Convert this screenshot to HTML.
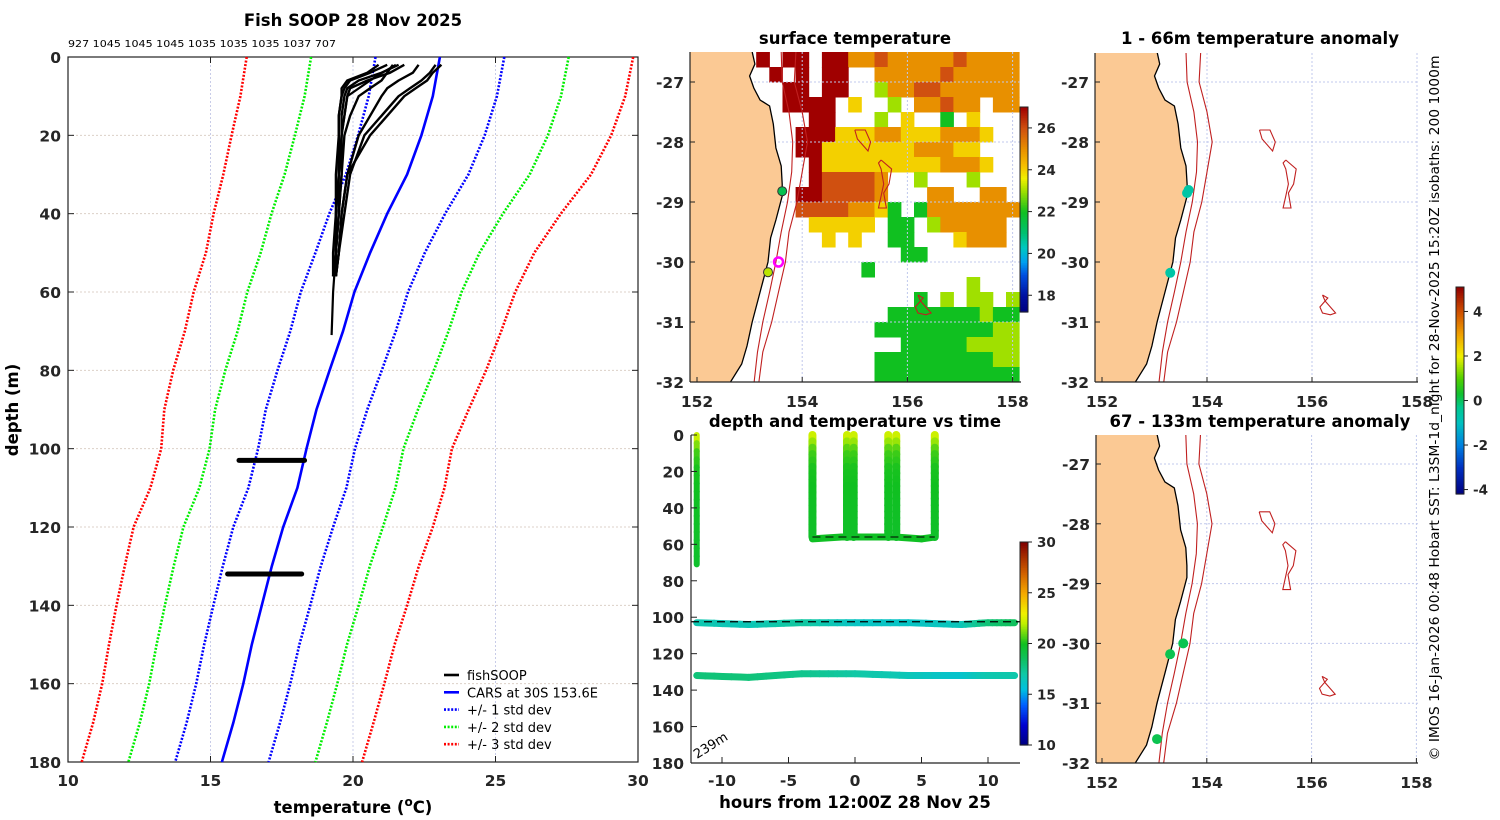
<!DOCTYPE html>
<html><head><meta charset="utf-8">
<style>
html,body{margin:0;padding:0;background:#fff;}
svg{display:block;font-family:"DejaVu Sans","Liberation Sans",sans-serif;}
.t{font-weight:bold;font-size:16.5px;fill:#000;}
.tk{font-weight:bold;font-size:15.5px;fill:#262626;}
</style></head>
<body>
<svg id="fig" width="1500" height="820" viewBox="0 0 1500 820" xmlns="http://www.w3.org/2000/svg">
<g id="gL"></g>
<g id="gM1"></g>
<g id="gM2"></g>
<g id="gR1"></g>
<g id="gR2"></g>
<text x="353" y="26" text-anchor="middle" class="t">Fish SOOP 28 Nov 2025</text>
<text x="68" y="47" font-size="10" fill="#000" textLength="268" lengthAdjust="spacingAndGlyphs">927 1045 1045 1045 1035 1035 1035 1037 707</text>
<text x="855" y="44" text-anchor="middle" class="t">surface temperature</text>
<text x="1260" y="44" text-anchor="middle" class="t">1 - 66m temperature anomaly</text>
<text x="855" y="427" text-anchor="middle" class="t">depth and temperature vs time</text>
<text x="1260" y="427" text-anchor="middle" class="t">67 - 133m temperature anomaly</text>
<text transform="translate(1439,408) rotate(-90)" text-anchor="middle" font-size="13" fill="#000" textLength="705" lengthAdjust="spacingAndGlyphs">© IMOS 16-Jan-2026 00:48 Hobart SST: L3SM-1d_night for 28-Nov-2025 15:20Z isobaths: 200  1000m</text>
</svg>
<script>
// ---------- data ----------
const profDepthTicks=[0,20,40,60,80,100,120,140,160,180];
const tempTicks=[10,15,20,25,30];
const carsDepth=[0,10,20,30,40,50,60,70,80,90,100,110,120,130,140,150,160,170,180];
const carsMean=[23.05,22.8,22.4,21.9,21.2,20.6,20.05,19.65,19.18,18.72,18.37,18.05,17.55,17.15,16.8,16.45,16.15,15.8,15.4];
const carsStd=[2.26,2.25,2.22,2.15,2.03,1.92,1.88,1.85,1.83,1.78,1.7,1.72,1.75,1.72,1.7,1.67,1.65,1.64,1.64];
const soopDepth=[2,4,6,8,10,15,20,30,40,50,56];
const soop1=[21.6,21.0,20.2,19.8,19.7,19.6,19.6,19.5,19.4,19.4,19.3];
const soop2=[21.8,21.3,20.5,19.9,19.8,19.7,19.6,19.6,19.5,19.4,19.4];
const soop3=[21.2,20.6,19.9,19.7,19.6,19.5,19.5,19.4,19.4,19.3,19.3];
const soop4=[21.4,21.2,21.0,20.6,20.2,19.9,19.7,19.6,19.5,19.4,19.3];
const soop5=[22.3,22.1,21.6,21.2,21.0,20.6,20.2,19.8,19.6,19.5,19.4];
const soop6=[23.1,22.8,22.6,22.2,21.8,21.2,20.6,19.8,19.6,19.5,19.4];
const soop7=[22.9,22.7,22.4,22.0,21.6,21.0,20.4,19.9,19.7,19.5,19.4];
const soop8=[20.9,20.5,19.8,19.6,19.6,19.5,19.5,19.5,19.4,19.4,19.3];
const soopDeepDepth=[2,5,10,20,30,40,50,60,71];
const soopDeep=[21.5,20.8,19.8,19.6,19.5,19.5,19.4,19.3,19.25];
const bottomDepth=[103,132];
const bottomTmin=[16.0,15.6];
const bottomTmax=[18.3,18.2];

const hourTicks=[-10,-5,0,5,10];
const dtDepthTicks=[0,20,40,60,80,100,120,140,160,180];
const vertTimes=[-11.9,-3.2,-0.6,-0.1,2.5,3.1,6.0];
const vertMaxDepth=[71,56,56,56,56,56,56];
const vProfDepth=[0,5,10,20,40,56,71];
const vProfTemp=[22.6,21.6,20.6,20.1,19.9,19.8,19.7];
const shelfTimes=[-3.2,-1,1,3,5,6.0];
const shelfDepth=[57,56,56,56,57,56];
const lineTimes=[-11.9,-8,-4,0,4,8,10,12];
const temp103=[16.8,16.6,17.2,16.3,16.2,16.5,18.0,18.6];
const temp132=[18.0,18.0,17.6,17.1,16.6,16.0,16.8,16.9];
const depth103=[103,104,103,103,103,104,103,103];
const depth132=[132,133,131,131,132,132,132,132];

const sstTicks=[18,20,22,24,26];
const anomTicks=[-4,-2,0,2,4];
const lonTicks=[152,154,156,158];
const latTicks=[-27,-28,-29,-30,-31,-32];
// SST grid: rows from lat -26.5 southward (0.25 deg), cols from lon 151.875 (0.25 deg); '.'=no data, digit d => 18+d degC
const sstRows=[
".....9.99.997787777787777",
"......9.9.99..77777877777",
".......99.99..57788777777",
".......9999.6..5.77877.77",
".........99...5.6..4.6...",
"........999666776667776..",
"........99666666677766...",
".........96666666667776..",
".........988887..5...5...",
"........9988887...77..77.",
"........88887764.47777777",
".........66666.44.577777.",
"..........6.6..44...6777.",
"................44.......",
".............4...........",
".....................5...",
".................4.5.55.5",
"...............4444444544",
"..............44444444455",
"................444445555",
"..............44444444455",
"..............44444444444"];
const coastLon=[153.05,153.1,153.0,153.08,153.2,153.38,153.45,153.5,153.6,153.62,153.62,153.5,153.4,153.35,153.2,153.05,152.95,152.85,152.6];
const coastLat=[-26.5,-26.7,-26.9,-27.1,-27.3,-27.4,-27.7,-28.1,-28.4,-28.7,-28.9,-29.3,-29.6,-30.0,-30.5,-31.0,-31.4,-31.7,-32.05];
const iso200Lon=[153.6,153.62,153.75,153.82,153.8,153.72,153.6,153.5,153.38,153.25,153.15,153.08];
const iso200Lat=[-26.5,-27.0,-27.5,-28.0,-28.5,-29.0,-29.5,-30.0,-30.5,-31.0,-31.5,-32.05];
const iso1000Lon=[153.88,153.85,154.0,154.1,154.0,153.9,153.75,153.68,153.55,153.42,153.25,153.17];
const iso1000Lat=[-26.5,-27.0,-27.5,-28.0,-28.5,-29.0,-29.5,-30.0,-30.5,-31.0,-31.5,-32.05];
const smA_lon=[155.0,155.2,155.3,155.25,155.05,155.0];
const smA_lat=[-27.8,-27.8,-28.0,-28.15,-27.95,-27.8];
const smB_lon=[155.5,155.7,155.65,155.55,155.6,155.45,155.5,155.55,155.5,155.45,155.5];
const smB_lat=[-28.3,-28.45,-28.7,-28.85,-29.1,-29.1,-28.9,-28.7,-28.45,-28.35,-28.3];
const smC_lon=[156.2,156.3,156.25,156.45,156.35,156.2,156.15,156.25,156.2];
const smC_lat=[-30.55,-30.6,-30.65,-30.85,-30.88,-30.85,-30.75,-30.65,-30.55];
const sstDotLon=[153.62,153.35];
const sstDotLat=[-28.82,-30.17];
const sstDotTemp=[21.4,23.2];
const ringLon=[153.55], ringLat=[-30.0];
const anom1Lon=[153.62,153.65,153.3];
const anom1Lat=[-28.85,-28.8,-30.18];
const anom1Val=[-0.6,-0.6,-0.6];
const anom2Lon=[153.55,153.3,153.05];
const anom2Lat=[-30.0,-30.18,-31.6];
const anom2Val=[0.1,0.1,0.1];

// ---------- helpers ----------
const NS='http://www.w3.org/2000/svg';
function mk(parent,tag,attrs){const e=document.createElementNS(NS,tag);for(const k in attrs)e.setAttribute(k,attrs[k]);parent.appendChild(e);return e;}
function hex2rgb(h){return[parseInt(h.substr(1,2),16),parseInt(h.substr(3,2),16),parseInt(h.substr(5,2),16)];}
function cmap(stops,v){if(v<=stops[0][0])return stops[0][1];for(let i=1;i<stops.length;i++){if(v<=stops[i][0]){const a=stops[i-1],b=stops[i];const f=(v-a[0])/(b[0]-a[0]);const A=hex2rgb(a[1]),B=hex2rgb(b[1]);return 'rgb('+A.map((x,j)=>Math.round(x+(B[j]-x)*f)).join(',')+')';}}return stops[stops.length-1][1];}
const sstStops=[[17.2,'#00007f'],[18,'#0010a0'],[19,'#0050e0'],[19.6,'#00a0f0'],[20.3,'#00c8c0'],[21,'#00c070'],[22,'#10c020'],[23,'#a0e000'],[23.6,'#f0f000'],[24.2,'#f5c000'],[25,'#e89000'],[26,'#d05010'],[27,'#a00000']];
const timeStops=[[10,'#00007f'],[12,'#0000d0'],[14,'#0060ff'],[15.5,'#00c0e0'],[17,'#10c8a8'],[18.5,'#10c060'],[20,'#10c020'],[22,'#c0f000'],[23,'#f0f000'],[25,'#f5a800'],[27,'#d06000'],[30,'#800000']];
const anomStops=[[-4.2,'#00007f'],[-3,'#0030c0'],[-2,'#0080e0'],[-1,'#00c0c0'],[-0.3,'#00c890'],[0.3,'#10c030'],[1,'#50d000'],[2,'#f0f000'],[3,'#f0a000'],[4,'#d05000'],[5.1,'#900000']];
function txt(p,x,y,s,anchor,name,cls){const t=mk(p,'text',{x:x,y:y,'text-anchor':anchor||'middle'});if(cls)t.setAttribute('class',cls);t.textContent=s;return t;}
function colorbar(p,x,y0,y1,vmin,vmax,stops,ticks,name){
  const g=mk(p,'g',{});
  const n=120;for(let i=0;i<n;i++){const v=vmin+(vmax-vmin)*(i+0.5)/n;const ya=y1-(y1-y0)*(i+1)/n;mk(g,'rect',{x:x,y:ya,width:8,height:(y1-y0)/n+0.6,fill:cmap(stops,v)});}
  mk(g,'rect',{x:x,y:y0,width:8,height:y1-y0,fill:'none',stroke:'#222','stroke-width':1});
  ticks.forEach(t=>{const y=y1-(t-vmin)/(vmax-vmin)*(y1-y0);mk(g,'line',{x1:x+8,x2:x+12,y1:y,y2:y,stroke:'#222'});const tt=txt(g,x+17,y+5,String(t),'start','colorbar-tick','');tt.setAttribute('font-size','13.5');tt.setAttribute('font-weight','bold');tt.setAttribute('fill','#262626');});
}

// ---------- left profile panel ----------
(function(){
const g=document.getElementById('gL');
const X=t=>68+(t-10)*28.5, Y=d=>57+d*(705/180);
tempTicks.forEach(t=>{if(t>10&&t<30){const l=mk(g,'line',{x1:X(t),x2:X(t),y1:57,y2:762,stroke:'#c8cce8','stroke-dasharray':'2,2'});}
  txt(g,X(t),786,String(t),'middle','x-tick-label','tk');});
profDepthTicks.forEach(d=>{if(d>0&&d<180){const l=mk(g,'line',{x1:68,x2:638,y1:Y(d),y2:Y(d),stroke:'#dcd0c8','stroke-dasharray':'2,2'});
  mk(g,'line',{x1:68,x2:74,y1:Y(d),y2:Y(d),stroke:'#222'});mk(g,'line',{x1:632,x2:638,y1:Y(d),y2:Y(d),stroke:'#222'});}
  txt(g,61,Y(d)+6,String(d),'end','y-tick-label','tk');});
tempTicks.forEach(t=>{mk(g,'line',{x1:X(t),x2:X(t),y1:57,y2:63,stroke:'#222'});mk(g,'line',{x1:X(t),x2:X(t),y1:756,y2:762,stroke:'#222'});});
const box=mk(g,'rect',{x:68,y:57,width:570,height:705,fill:'none',stroke:'#222','stroke-width':1.2});
const cols={1:'#0000ff',2:'#00ee00',3:'#ff0000'};
[3,2,1].forEach(k=>{[-1,1].forEach(s=>{const pts=carsDepth.map((d,i)=>X(carsMean[i]+s*k*carsStd[i]).toFixed(1)+','+Y(d).toFixed(1)).join(' ');
  const pl=mk(g,'polyline',{points:pts,fill:'none',stroke:cols[k],'stroke-width':2.6,'stroke-dasharray':'2,1.6'});});});
const mean=mk(g,'polyline',{points:carsDepth.map((d,i)=>X(carsMean[i]).toFixed(1)+','+Y(d).toFixed(1)).join(' '),fill:'none',stroke:'#0000ff','stroke-width':2.6});

[soop1,soop2,soop3,soop4,soop5,soop6,soop7,soop8].forEach(arr=>{const pl=mk(g,'polyline',{points:soopDepth.map((d,i)=>X(arr[i]).toFixed(1)+','+Y(d).toFixed(1)).join(' '),fill:'none',stroke:'#000','stroke-width':2.4,'stroke-linejoin':'round'});
  });
const dp=mk(g,'polyline',{points:soopDeepDepth.map((d,i)=>X(soopDeep[i]).toFixed(1)+','+Y(d).toFixed(1)).join(' '),fill:'none',stroke:'#000','stroke-width':2.2});

bottomDepth.forEach((d,i)=>{const l=mk(g,'line',{x1:X(bottomTmin[i]),x2:X(bottomTmax[i]),y1:Y(d),y2:Y(d),stroke:'#000','stroke-width':5,'stroke-linecap':'round'});
  });
const yl=txt(g,0,0,'depth (m)','middle','y-axis-title','t');yl.setAttribute('transform','translate(18,410) rotate(-90)');
const xl=mk(g,'text',{x:353,y:813,'text-anchor':'middle',class:'t'});
xl.innerHTML='temperature (<tspan dy="-7" font-size="12">o</tspan><tspan dy="7">C)</tspan>';
const lg=mk(g,'g',{});
const leg=[['fishSOOP','#000',''],['CARS at 30S 153.6E','#0000ff',''],['+/- 1 std dev','#0000ff','2,1.6'],['+/- 2 std dev','#00ee00','2,1.6'],['+/- 3 std dev','#ff0000','2,1.6']];
leg.forEach((e,i)=>{const y=675+i*17.3;const ln=mk(lg,'line',{x1:444,x2:459,y1:y,y2:y,stroke:e[1],'stroke-width':2.6});if(e[2])ln.setAttribute('stroke-dasharray',e[2]);
  const t=txt(lg,467,y+5,e[0],'start','legend-entry','');t.setAttribute('font-size','13');});
})();

// ---------- map drawing ----------
function drawMap(gid,x0,lonScale,y0,latScale,box,opts){
  const g=document.getElementById(gid);
  const P=(lon,lat)=>[x0+(lon-152)*lonScale,y0-(lat+27)*latScale];
  const cid='clip'+gid;const cp=mk(g,'clipPath',{id:cid});mk(cp,'rect',{x:box[0],y:box[1],width:box[2]-box[0],height:box[3]-box[1]});
  const inner=mk(g,'g',{'clip-path':'url(#'+cid+')'});
  if(opts.sst){const cells=mk(inner,'g',{});
    sstRows.forEach((row,j)=>{for(let i=0;i<row.length;i++){const c=row[i];if(c==='.')continue;const v=18+parseInt(c);
      const a=P(151.875+0.25*i,-26.5-0.25*j),b=P(152.125+0.25*i,-26.75-0.25*j);
      const r=mk(cells,'rect',{x:a[0].toFixed(1),y:a[1].toFixed(1),width:(b[0]-a[0]+0.5).toFixed(1),height:(b[1]-a[1]+0.5).toFixed(1),fill:cmap(sstStops,v)});
      }});}
  lonTicks.forEach(l=>{const p=P(l,-27)[0];const gl=mk(inner,'line',{x1:p,x2:p,y1:box[1],y2:box[3],stroke:'#c0c8ec','stroke-dasharray':'2,2'});});
  latTicks.forEach(l=>{const p=P(152,l)[1];const gl=mk(inner,'line',{x1:box[0],x2:box[2],y1:p,y2:p,stroke:'#c0c8ec','stroke-dasharray':'2,2'});});
  const cpts=coastLon.map((l,i)=>P(l,coastLat[i]));
  const land=[...cpts,P(151.7,-32.1),P(151.7,-26.4)].map(p=>p[0].toFixed(1)+','+p[1].toFixed(1)).join(' ');
  const lp=mk(inner,'polygon',{points:land,fill:'#fbc994',stroke:'none'});
  const cl=mk(inner,'polyline',{points:cpts.map(p=>p[0].toFixed(1)+','+p[1].toFixed(1)).join(' '),fill:'none',stroke:'#000','stroke-width':1.3});
  [[iso200Lon,iso200Lat,'isobath-200m'],[iso1000Lon,iso1000Lat,'isobath-1000m'],[smA_lon,smA_lat,'seamount-contour'],[smB_lon,smB_lat,'seamount-contour'],[smC_lon,smC_lat,'seamount-contour']].forEach(s=>{
    const pl=mk(inner,'polyline',{points:s[0].map((l,i)=>{const p=P(l,s[1][i]);return p[0].toFixed(1)+','+p[1].toFixed(1);}).join(' '),fill:'none',stroke:'#c02020','stroke-width':1.1});
    });
  if(opts.dots){opts.dots[0].forEach((l,i)=>{const p=P(l,opts.dots[1][i]);const c=mk(inner,'circle',{cx:p[0],cy:p[1],r:opts.r||4.5,fill:cmap(opts.stops,opts.dots[2][i]),stroke:opts.edge||'none','stroke-width':1});
    });}
  if(opts.ring){const p=P(ringLon[0],ringLat[0]);const c=mk(inner,'circle',{cx:p[0],cy:p[1],r:4.5,fill:'none',stroke:'#ff00ff','stroke-width':2.5});}
  mk(g,'line',{x1:box[0],x2:box[0],y1:box[1],y2:box[3],stroke:'#222','stroke-width':1.2});
  mk(g,'line',{x1:box[0],x2:box[2],y1:box[3],y2:box[3],stroke:'#222','stroke-width':1.2});
  lonTicks.forEach(l=>{const x=P(l,-27)[0];mk(g,'line',{x1:x,x2:x,y1:box[3]-5,y2:box[3],stroke:'#222'});txt(g,x,box[3]+25,String(l),'middle','lon-tick-label','tk');});
  latTicks.forEach(l=>{const y=P(152,l)[1];if(y>box[3]+1)return;mk(g,'line',{x1:box[0],x2:box[0]+5,y1:y,y2:y,stroke:'#222'});txt(g,box[0]-6,y+6,String(l),'end','lat-tick-label','tk');});
}
drawMap('gM1',697,52.6,82,60,[690,52,1021,382],{sst:true,dots:[sstDotLon,sstDotLat,sstDotTemp],stops:sstStops,edge:'#333',ring:true});
drawMap('gR1',1102,52.5,82,60,[1095,53,1418,382],{dots:[anom1Lon,anom1Lat,anom1Val],stops:anomStops,r:5});
drawMap('gR2',1102,52.4,464,59.8,[1096,435,1418,763],{dots:[anom2Lon,anom2Lat,anom2Val],stops:anomStops,r:5});
colorbar(document.getElementById('gM1'),1020,107,312,17.2,27,sstStops,sstTicks,'sst-colorbar');
colorbar(document.getElementById('gR1'),1456,287,494,-4.2,5.1,anomStops,anomTicks,'anomaly-colorbar');

// ---------- depth vs time panel ----------
(function(){
const g=document.getElementById('gM2');
const T=h=>855+h*13.3, D=d=>435+d*(328/180);
const cp=mk(g,'clipPath',{id:'clipdt'});mk(cp,'rect',{x:691,y:430,width:329,height:333});
const inner=mk(g,'g',{'clip-path':'url(#clipdt)'});
const tempAt=d=>{for(let i=1;i<vProfDepth.length;i++){if(d<=vProfDepth[i]){const f=(d-vProfDepth[i-1])/(vProfDepth[i]-vProfDepth[i-1]);return vProfTemp[i-1]+f*(vProfTemp[i]-vProfTemp[i-1]);}}return vProfTemp[vProfTemp.length-1];};
function seg(x1,y1,x2,y2,c,w,name){const l=mk(inner,'line',{x1:x1,y1:y1,x2:x2,y2:y2,stroke:c,'stroke-width':w,'stroke-linecap':'round'});}
for(let i=0;i<shelfTimes.length-1;i++)seg(T(shelfTimes[i]),D(shelfDepth[i]),T(shelfTimes[i+1]),D(shelfDepth[i+1]),cmap(timeStops,19.9),7,'shelf-bottom-track');
vertTimes.forEach((t,k)=>{const md=vertMaxDepth[k];const steps=16;for(let s=0;s<steps;s++){const d1=md*s/steps,d2=md*(s+1)/steps;seg(T(t),D(d1),T(t),D(d2),cmap(timeStops,tempAt((d1+d2)/2)),k===0?6:8,'profile-cast');}});
[[temp103,depth103,'track-103m'],[temp132,depth132,'track-132m']].forEach(s=>{for(let i=0;i<lineTimes.length-1;i++){const n=6;for(let q=0;q<n;q++){const f1=q/n,f2=(q+1)/n;
  const ta=lineTimes[i]+(lineTimes[i+1]-lineTimes[i])*f1,tb=lineTimes[i]+(lineTimes[i+1]-lineTimes[i])*f2;
  const da=s[1][i]+(s[1][i+1]-s[1][i])*f1,db=s[1][i]+(s[1][i+1]-s[1][i])*f2;
  const v=s[0][i]+(s[0][i+1]-s[0][i])*(f1+f2)/2;seg(T(ta),D(da),T(tb),D(db),cmap(timeStops,v),7,s[2]);}}});
const b1=mk(inner,'line',{x1:T(-3.2),x2:T(6),y1:D(56),y2:D(56),stroke:'#000','stroke-width':1,'stroke-dasharray':'8,5'});
const b2=mk(inner,'line',{x1:691,x2:1020,y1:D(102.5),y2:D(102.5),stroke:'#000','stroke-width':1.2,'stroke-dasharray':'8,5'});
mk(g,'line',{x1:691,x2:691,y1:435,y2:763,stroke:'#222','stroke-width':1.2});
mk(g,'line',{x1:691,x2:1020,y1:763,y2:763,stroke:'#222','stroke-width':1.2});
hourTicks.forEach(h=>{mk(g,'line',{x1:T(h),x2:T(h),y1:757,y2:763,stroke:'#222'});txt(g,T(h),786,String(h),'middle','hour-tick-label','tk');});
dtDepthTicks.forEach(d=>{mk(g,'line',{x1:691,x2:697,y1:D(d),y2:D(d),stroke:'#222'});txt(g,684,D(d)+6,String(d),'end','depth-tick-label','tk');});
const lab=txt(g,0,0,'239m','start','max-depth-label','');lab.setAttribute('font-size','13');lab.setAttribute('transform','translate(697,759) rotate(-32)');
txt(g,855,808,'hours from 12:00Z 28 Nov 25','middle','x-axis-title','t');
colorbar(g,1020,542,745,10,30,timeStops,[10,15,20,25,30],'time-temperature-colorbar');
})();
</script>
</body></html>
